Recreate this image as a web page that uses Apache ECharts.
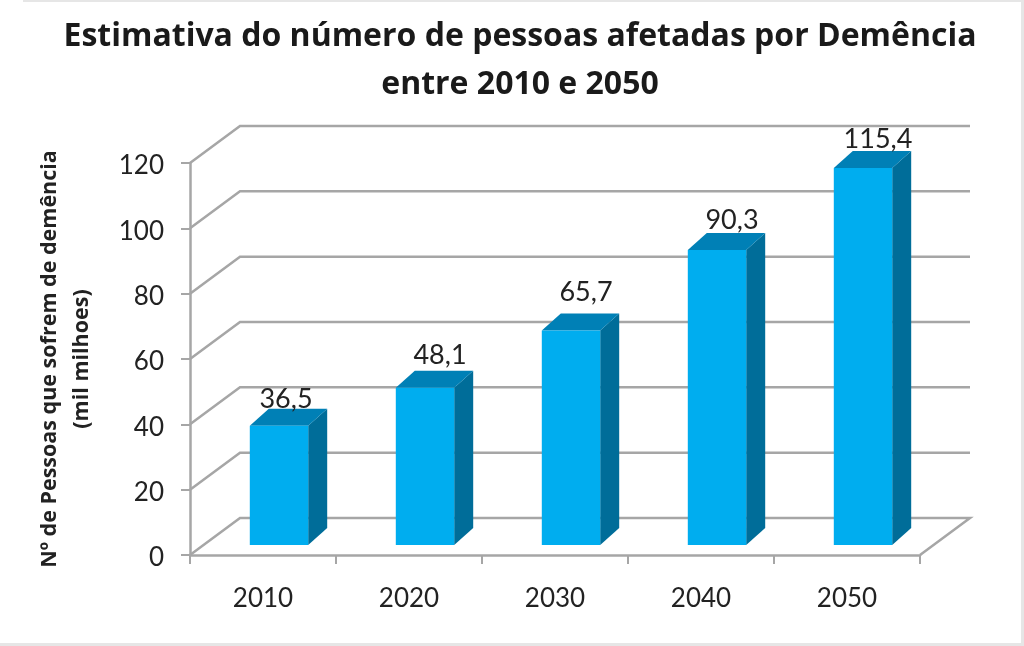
<!DOCTYPE html>
<html>
<head>
<meta charset="utf-8">
<style>
  html, body { margin: 0; padding: 0; background: #fff; }
  #chart { width: 1024px; height: 646px; }
</style>
<script src="https://cdn.jsdelivr.net/npm/echarts@6/dist/echarts.min.js"></script>
</head>
<body>
<div id="chart"></div>
<script>
var years = ['2010', '2020', '2030', '2040', '2050'];
var pessoas = [36.5, 48.1, 65.7, 90.3, 115.4];
var yTicks = [0, 20, 40, 60, 80, 100, 120];
var chartTitle = 'Estimativa do número de pessoas afetadas por Demência\nentre 2010 e 2050';
var yName = 'Nº de Pessoas que sofrem de demência\n(mil milhoes)';

// fake 3d depth, in pixels
var wallDepth = [50, -37];
var barShift = [16, -10];
var barDepth = [19, -17];
// labels sit a bit differently on each bar
var labelDx = [7, 15, 15, 15, 15];
var labelDy = [26, 33, 38, 30, 29];

var gridColor = '#a6a6a6';
var textColor = '#222';
var font = 'Lato';
var titleFont = 'Open Sans';

var myChart = echarts.init(document.getElementById('chart'));

function poly(points, color, z2) {
    return { type: 'polygon', shape: { points: points }, style: { fill: color }, z2: z2 || 0 };
}

// back wall lines and the diagonal going to the front axis
function renderWall(params, api) {
    var sys = params.coordSys;
    var v = api.value(0);
    var y = api.coord([0, v])[1];
    var left = sys.x, right = sys.x + sys.width;
    var pts = [[left, y], [left + wallDepth[0], y + wallDepth[1]], [right + wallDepth[0], y + wallDepth[1]]];
    if (v === 0) {
        pts.push([right, y]);
    }
    return {
        type: 'polyline',
        shape: { points: pts },
        style: { fill: 'none', stroke: gridColor, lineWidth: 2.5 }
    };
}

function renderBar(params, api) {
    var i = params.dataIndex;
    var top = api.coord([i, api.value(1)]);
    var base = api.coord([0, 0]);
    var half = api.size([1, 0])[0] * 0.4 / 2;
    var x0 = top[0] - half + barShift[0], x1 = top[0] + half + barShift[0];
    var yt = top[1] + barShift[1], yb = base[1] + barShift[1];
    var dx = barDepth[0], dy = barDepth[1];
    return {
        type: 'group',
        children: [
            poly([[x1, yt], [x1 + dx, yt + dy], [x1 + dx, yb + dy], [x1, yb]], '#006d99'),
            poly([[x0, yt], [x0 + dx, yt + dy], [x1 + dx, yt + dy], [x1, yt]], '#0080b6'),
            poly([[x0, yt], [x1, yt], [x1, yb], [x0, yb]], '#00adef'),
            {
                type: 'text',
                z2: 5,
                style: {
                    x: top[0] + barShift[0] + labelDx[i],
                    y: yt - labelDy[i],
                    text: String(api.value(1)).replace('.', ','),
                    align: 'center',
                    verticalAlign: 'middle',
                    font: '27px ' + font,
                    fill: textColor
                }
            }
        ]
    };
}

var option = {
    animation: false,
    backgroundColor: '#fff',
    textStyle: { fontFamily: font },
    title: {
        text: chartTitle,
        left: 515,
        top: 8,
        textAlign: 'center',
        textStyle: { fontFamily: titleFont, fontSize: 32, fontWeight: 'bold', color: '#1a1a1a', lineHeight: 48 }
    },
    grid: { left: 190, right: 104, top: 163, bottom: 91 },
    xAxis: {
        type: 'category',
        data: years,
        axisLine: { lineStyle: { color: gridColor, width: 2.5 } },
        axisTick: { show: true, length: 9, lineStyle: { color: gridColor, width: 2 } },
        axisLabel: { fontSize: 26, color: textColor, margin: 31 },
        splitLine: { show: false }
    },
    yAxis: {
        type: 'value',
        min: 0,
        max: 120,
        interval: 20,
        name: yName,
        nameLocation: 'middle',
        nameRotate: 90,
        nameGap: 92,
        nameTextStyle: { fontFamily: titleFont, fontSize: 21.5, fontWeight: 'bold', color: textColor, lineHeight: 32 },
        axisLine: { show: true, lineStyle: { color: gridColor, width: 2.5 } },
        axisTick: { show: true, length: 9, lineStyle: { color: gridColor, width: 2 } },
        // labels sit a little under their ticks in the original
        axisLabel: { fontSize: 26, color: textColor, margin: 26, verticalAlign: 'top', lineHeight: 6 },
        splitLine: { show: false }
    },
    series: [
        { type: 'custom', coordinateSystem: 'cartesian2d', renderItem: renderWall, data: yTicks.map(function (v) { return [v]; }), encode: { y: 0 }, clip: false, silent: true, z: 1 },
        { type: 'custom', coordinateSystem: 'cartesian2d', renderItem: renderBar, data: pessoas.map(function (v, i) { return [i, v]; }), encode: { x: 0, y: 1 }, clip: false, z: 3 }
    ],
    // thin gray frame of the original screenshot
    graphic: [
        { type: 'rect', shape: { x: 23, y: 0, width: 1001, height: 2 }, style: { fill: '#e6e6e6' }, silent: true },
        { type: 'rect', shape: { x: 1021, y: 0, width: 3, height: 646 }, style: { fill: '#e6e6e6' }, silent: true },
        { type: 'rect', shape: { x: 0, y: 643, width: 1024, height: 3 }, style: { fill: '#e6e6e6' }, silent: true }
    ]
};

myChart.setOption(option);
</script>
</body>
</html>
